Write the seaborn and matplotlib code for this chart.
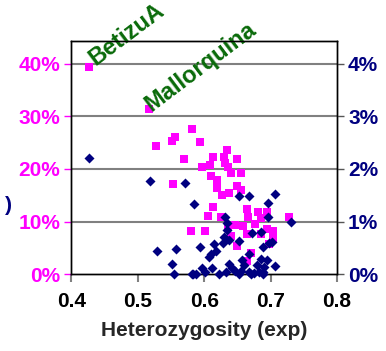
import numpy as np
import pandas as pd
import seaborn as sns
import matplotlib.pyplot as plt
from matplotlib.ticker import FuncFormatter

# Magenta squares (left axis, percent)
het_a = [0.426, 0.517, 0.527, 0.551, 0.556, 0.582, 0.593, 0.569, 0.613, 0.608,
         0.596, 0.634, 0.630, 0.650, 0.632, 0.636, 0.640, 0.655, 0.611, 0.619,
         0.553, 0.619, 0.650, 0.656, 0.637, 0.627, 0.613, 0.665, 0.681, 0.695,
         0.606, 0.626, 0.666, 0.728, 0.686, 0.580, 0.601, 0.647, 0.659, 0.677,
         0.694, 0.704, 0.636, 0.640, 0.665, 0.685, 0.704, 0.650, 0.697, 0.671,
         0.665]
val_a = [39.4, 31.4, 24.4, 25.3, 26.0, 27.6, 25.2, 21.9, 22.3, 20.8,
         20.4, 23.6, 22.3, 21.9, 21.1, 20.4, 19.2, 19.2, 18.7, 17.9,
         17.1, 16.3, 16.8, 16.0, 15.5, 15.0, 12.8, 12.4, 11.9, 11.9,
         11.0, 10.8, 10.8, 10.8, 10.7, 8.2, 8.2, 9.3, 9.1, 9.5,
         8.5, 8.2, 9.0, 7.2, 7.6, 7.6, 6.9, 5.3, 5.8, 4.1,
         2.5]

# Navy diamonds (right axis, percent)
het_b = [0.427, 0.518, 0.571, 0.584, 0.529, 0.557, 0.552, 0.555, 0.582, 0.587,
         0.652, 0.667, 0.696, 0.706, 0.631, 0.696, 0.730, 0.634, 0.635, 0.630,
         0.672, 0.685, 0.628, 0.638, 0.652, 0.615, 0.594, 0.702, 0.697, 0.689,
         0.618, 0.611, 0.667, 0.607, 0.657, 0.685, 0.695, 0.637, 0.642, 0.597,
         0.612, 0.707, 0.680, 0.690, 0.660, 0.601, 0.633, 0.647, 0.655, 0.667,
         0.675, 0.682, 0.688, 0.583, 0.623, 0.652, 0.671, 0.688]
val_b = [2.20, 1.78, 1.73, 1.33, 0.44, 0.48, 0.19, 0.0, 0.0, 0.0,
         1.49, 1.49, 1.36, 1.53, 1.09, 1.09, 1.00, 0.97, 0.84, 0.71,
         0.79, 0.81, 0.60, 0.65, 0.63, 0.57, 0.52, 0.62, 0.60, 0.51,
         0.44, 0.38, 0.38, 0.32, 0.27, 0.28, 0.27, 0.20, 0.11, 0.11,
         0.11, 0.15, 0.17, 0.14, 0.17, 0.04, 0.04, 0.06, 0.06, 0.04,
         0.02, 0.04, 0.04, 0.0, 0.0, 0.0, 0.0, 0.0]

labels = ['BetizuA', 'Mallorquina']
label_x = [0.436, 0.521]
label_y = [39.6, 30.9]

df_a = pd.DataFrame({'het': het_a, 'val': np.array(val_a) / 100})
df_b = pd.DataFrame({'het': het_b, 'val': np.array(val_b) / 100})

sns.set_style('white')
plt.rcParams['font.family'] = ['Liberation Sans', 'DejaVu Sans']
plt.rcParams['font.weight'] = 'bold'

magenta = '#FF00FF'
navy = '#000080'
green = '#0A6A0A'

fig = plt.figure(figsize=(3.86, 3.51), dpi=100)
ax = fig.add_axes([0.185, 0.219, 0.688, 0.665])
ax2 = ax.twinx()

sns.scatterplot(data=df_a, x='het', y='val', ax=ax, marker='s', color=magenta,
                s=30, linewidth=0, clip_on=False, zorder=3)
sns.scatterplot(data=df_b, x='het', y='val', ax=ax2, marker='D', color=navy,
                s=26, linewidth=0, clip_on=False, zorder=3)

ax.set_xlim(0.4, 0.8)
ax.set_ylim(0, 0.444)
ax2.set_ylim(0, 0.0444)
ax.set_xticks([0.4, 0.5, 0.6, 0.7, 0.8])
ax.set_yticks([0, 0.1, 0.2, 0.3, 0.4])
ax2.set_yticks([0, 0.01, 0.02, 0.03, 0.04])
ax.yaxis.set_major_formatter(FuncFormatter(lambda v, p: f'{v * 100:.0f}%'))
ax2.yaxis.set_major_formatter(FuncFormatter(lambda v, p: f'{v * 100:.0f}%'))

for v in [0.1, 0.2, 0.3, 0.4]:
    ax.axhline(v, color='#808080', lw=1.5, zorder=1)

ax.tick_params(axis='x', colors='#808080', labelcolor='black', labelsize=15,
               length=6, width=1.5, direction='out', bottom=True, pad=7)
ax.tick_params(axis='y', colors=magenta, labelcolor=magenta, labelsize=15,
               length=5, width=1, direction='out', left=True, pad=3)
ax2.tick_params(axis='y', colors='#555555', labelcolor=navy, labelsize=15,
                length=5, width=1, direction='out', right=True, pad=3)
for lab in ax.get_xticklabels() + ax.get_yticklabels() + ax2.get_yticklabels():
    lab.set_fontweight('bold')

ax.set_xlabel('Heterozygosity (exp)', fontsize=15, fontweight='bold', labelpad=7)
ax.set_ylabel('')
ax2.set_ylabel('')

for a in (ax, ax2):
    for s in a.spines.values():
        s.set_color('black')
        s.set_linewidth(1)

for t, x, y in zip(labels, label_x, label_y):
    ax.text(x, y / 100, t, rotation=37, rotation_mode='anchor', ha='left',
            va='baseline', color=green, fontsize=17, fontweight='bold',
            clip_on=False)

fig.text(0.013, 0.415, ')', color=navy, fontsize=15, fontweight='bold',
         ha='left', va='center')

fig.savefig('out.png', dpi=100)
